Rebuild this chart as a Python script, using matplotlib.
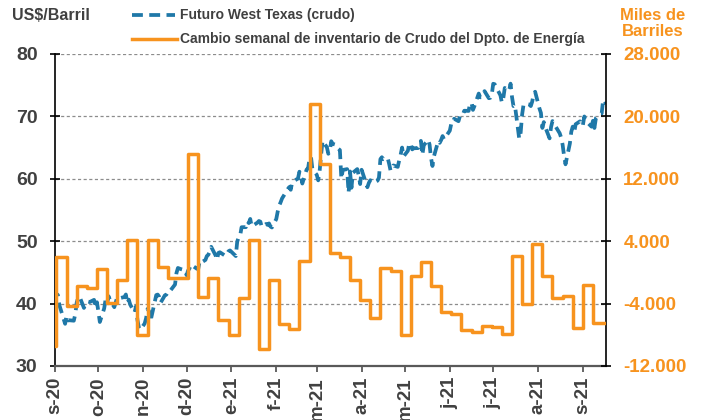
import matplotlib
matplotlib.use('Agg')
import matplotlib.pyplot as plt
from matplotlib.lines import Line2D
import pandas as pd

plt.rcParams['font.family'] = ['Liberation Sans', 'DejaVu Sans']
plt.rcParams['font.weight'] = 'bold'

# ---------------- data ----------------
# WTI futures settlement (US$/barrel), trading days by month
wti_sep20 = [42.76, 41.51, 41.37, 39.77, 36.76, 38.05, 37.30, 37.33, 37.26, 38.28, 40.16,
             40.97, 41.11, 39.31, 39.80, 39.93, 40.31, 40.25, 40.60, 39.29, 40.22]
wti_oct20 = [38.72, 37.05, 39.22, 40.67, 39.95, 41.19, 40.60, 39.43, 40.20, 41.04, 40.96,
             40.88, 41.06, 41.46, 40.03, 40.64, 39.85, 38.56, 39.57, 37.39, 36.17, 35.79]
wti_nov20 = [36.81, 37.66, 39.15, 38.79, 37.14, 40.29, 41.36, 41.45, 41.12, 40.13, 41.34,
             41.43, 41.82, 41.74, 42.15, 43.06, 44.91, 45.71, 45.53, 45.34]
wti_dec20 = [44.55, 45.28, 45.64, 46.26, 45.76, 45.60, 45.52, 46.78, 46.57, 46.99, 47.62,
             47.82, 48.36, 49.10, 47.74, 47.02, 48.12, 48.23, 47.62, 48.00, 48.40, 48.52]
wti_jan21 = [47.62, 49.93, 50.63, 50.83, 52.24, 52.25, 53.21, 52.91, 53.57, 52.36, 52.98,
             53.24, 53.13, 52.27, 52.77, 52.61, 52.85, 52.34, 52.20]
wti_feb21 = [53.55, 54.76, 55.69, 56.23, 56.85, 57.97, 58.36, 58.68, 58.24, 59.47, 60.05,
             61.14, 60.52, 59.24, 61.49, 61.67, 63.22, 63.53, 61.50]
wti_mar21 = [60.64, 59.75, 61.28, 63.83, 66.09, 65.05, 64.01, 64.44, 66.02, 65.61, 65.39,
             64.80, 64.60, 60.00, 61.42, 61.55, 57.76, 61.18, 58.56, 60.97, 61.56, 60.55, 59.16]
wti_apr21 = [61.45, 58.65, 59.33, 59.77, 59.60, 59.32, 59.70, 60.18, 63.15, 63.46, 63.13,
             63.38, 62.44, 61.35, 61.43, 62.14, 61.91, 62.94, 63.86, 65.01, 63.58]
wti_may21 = [64.49, 65.69, 65.63, 64.71, 64.90, 64.92, 65.28, 66.08, 63.82, 65.37, 66.27,
             65.49, 63.36, 62.05, 63.58, 66.05, 65.76, 66.21, 66.85, 66.32]
wti_jun21 = [67.72, 68.83, 68.81, 69.62, 69.23, 70.05, 69.96, 70.29, 70.91, 70.88, 72.12,
             72.15, 71.04, 71.64, 73.66, 73.06, 73.08, 73.30, 74.05, 72.91, 72.98, 73.47]
wti_jul21 = [75.23, 75.16, 73.37, 72.20, 72.94, 74.56, 74.10, 75.25, 73.13, 71.65, 71.81,
             66.42, 67.42, 70.30, 71.91, 72.07, 71.91, 71.65, 72.39, 73.62, 73.95]
wti_aug21 = [71.26, 70.56, 68.15, 69.09, 68.28, 66.48, 68.29, 69.25, 69.09, 68.44, 67.29,
             66.59, 65.46, 63.69, 62.32, 65.64, 67.54, 68.36, 67.42, 68.74, 69.21, 68.50]
wti_sep21 = [68.59, 69.99, 69.29, 68.35, 69.30, 68.14, 69.72, 70.45, 70.46, 72.61, 72.61, 71.97]

market_holidays = ['2020-09-07', '2020-11-26', '2020-12-25', '2021-01-01', '2021-01-18',
                   '2021-02-15', '2021-04-02', '2021-05-31', '2021-07-05', '2021-09-06']

# Weekly change in crude inventories (thousand barrels), weeks starting 2020-08-26
inv_first_week = '2020-08-26'
inv_values = [-9400, 1930, -4370, -1800, -2000, 440, -3930, -970, 4210, -8000, 4210, 650,
              -720, -680, 15140, -3120, -720, -6040, -8000, -3290, 4210, -9800, -970,
              -6630, -7200, 1420, 21530, 13850, 2500, 1930, -970, -3550, -5910, 520, 130,
              -8050, -510, 1380, -1800, -5140, -5350, -7400, -7620, -6850, -6980, -7920,
              2060, -4060, 3660, -510, -3340, -3000, -7070, -1620, -6550]

x_start, x_end = '2020-09-01', '2021-09-17'
month_labels = ['s-20', 'o-20', 'n-20', 'd-20', 'e-21', 'f-21', 'm-21', 'a-21',
                'm-21', 'j-21', 'j-21', 'a-21', 's-21']
left_ticks = [30, 40, 50, 60, 70, 80]
right_ticks = [-12000, -4000, 4000, 12000, 20000, 28000]
right_labels = ['-12.000', '-4.000', '4.000', '12.000', '20.000', '28.000']

# ---------------- build series ----------------
wti = (wti_sep20 + wti_oct20 + wti_nov20 + wti_dec20 + wti_jan21 + wti_feb21 + wti_mar21 +
       wti_apr21 + wti_may21 + wti_jun21 + wti_jul21 + wti_aug21 + wti_sep21)
days = pd.bdate_range(x_start, x_end)
days = days[~days.isin(pd.to_datetime(market_holidays))]
n = min(len(days), len(wti))
days, wti = days[:n], wti[:n]

inv_dates = list(pd.date_range(inv_first_week, periods=len(inv_values), freq='7D'))
inv_x = inv_dates + [pd.Timestamp(x_end)]
inv_y = inv_values + [inv_values[-1]]

BLUE = '#1F78A8'
ORANGE = '#F7931E'
GREY = '#404040'

fig = plt.figure(figsize=(7.01, 4.2), dpi=100)
ax = fig.add_axes([55/701, 1-366/420, (606-55)/701, (366-54)/420])
ax2 = ax.twinx()

ax.plot(days, wti, color=BLUE, lw=2.7, ls=(0, (2.9, 1.7)), zorder=3)
ax2.plot(inv_x, inv_y, color=ORANGE, lw=2.5, drawstyle='steps-post', zorder=3)

ax.set_xlim(pd.Timestamp(x_start), pd.Timestamp(x_end))
ax.set_ylim(30, 80)
ax2.set_ylim(-12000, 28000)

month_ticks = pd.date_range(x_start, periods=len(month_labels), freq='MS')
ax.set_xticks(month_ticks)
ax.set_xticklabels(month_labels, rotation=90, fontsize=13.5, color=GREY, fontweight='bold')
ax.set_yticks(left_ticks)
ax.set_yticklabels([str(v) for v in left_ticks], fontsize=14, color=GREY, fontweight='bold')
ax2.set_yticks(right_ticks)
ax2.set_yticklabels(right_labels, fontsize=13.5, color=ORANGE, fontweight='bold')

ax.grid(axis='y', color='#8c8c8c', lw=0.9, ls=(0, (2.5, 2)))
for a in (ax, ax2):
    a.spines['top'].set_visible(False)
ax.spines['right'].set_visible(False)
ax2.spines['left'].set_visible(False)
ax2.spines['bottom'].set_visible(False)
ax.spines['left'].set_color('black')
ax.spines['left'].set_linewidth(1.2)
ax.spines['bottom'].set_color('#595959')
ax.spines['bottom'].set_linewidth(1.6)
ax2.spines['right'].set_color('black')
ax2.spines['right'].set_linewidth(1.2)

ax.tick_params(axis='y', direction='inout', length=7, width=1.2, color='black', pad=9)
ax.tick_params(axis='x', direction='out', length=4, width=1.3, color='#595959', pad=4)
ax2.tick_params(axis='y', direction='inout', length=7, width=1.2, color='black', pad=9)

# header texts and legend
fig.text(12/701, 1-16/420, 'US$/Barril', fontsize=11.5, color=GREY, va='center', ha='left')
fig.add_artist(Line2D([132/701, 175/701], [1-15/420]*2, color=BLUE, lw=2.7,
                      ls=(0, (2.9, 1.7)), transform=fig.transFigure))
fig.text(180/701, 1-15/420, 'Futuro West Texas (crudo)', fontsize=10, color=GREY,
         va='center', ha='left')
fig.add_artist(Line2D([132/701, 177/701], [1-39/420]*2, color=ORANGE, lw=2.5,
                      transform=fig.transFigure))
fig.text(180/701, 1-39/420, 'Cambio semanal de inventario de Crudo del Dpto. de Energía',
         fontsize=10, color=GREY, va='center', ha='left')
fig.text(653/701, 1-15/420, 'Miles de', fontsize=12, color=ORANGE, va='center', ha='center')
fig.text(653/701, 1-32/420, 'Barriles', fontsize=12, color=ORANGE, va='center', ha='center')

fig.savefig('out.png', dpi=100)
